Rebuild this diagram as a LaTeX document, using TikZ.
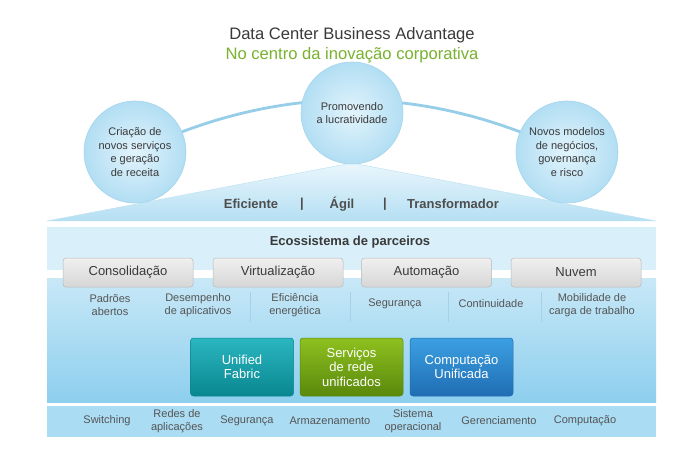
\documentclass[tikz,border=0pt]{standalone}
\usepackage{fontspec}
\setmainfont{Liberation Sans}
\pgfdeclarelayer{background}
\pgfsetlayers{background,main}
\definecolor{txtdark}{HTML}{3A3A3A}
\definecolor{txtgray}{HTML}{555555}
\definecolor{subgreen}{HTML}{78B22E}
\definecolor{panellight}{HTML}{D9EFFA}
\definecolor{panelmidtop}{HTML}{C8E8F7}
\definecolor{panelmidbot}{HTML}{8DCFEE}
\definecolor{stripblue}{HTML}{AADCF3}
\definecolor{bubin}{HTML}{E2F4FC}
\definecolor{bubout}{HTML}{B2DEF3}
\definecolor{bubrim}{HTML}{A4D5ED}
\definecolor{rooftop}{HTML}{EAF6FC}
\definecolor{roofbot}{HTML}{B4DFF3}
\definecolor{arcblue}{HTML}{96CDE9}
\definecolor{sepblue}{HTML}{A6D2E8}
\definecolor{teal1}{HTML}{2BB6C0}
\definecolor{teal2}{HTML}{098790}
\definecolor{green1}{HTML}{8EC11F}
\definecolor{green2}{HTML}{5A880C}
\definecolor{blue1}{HTML}{3CA0E2}
\definecolor{blue2}{HTML}{1F6DB3}
\tikzset{
  bubble/.style={circle, minimum size=102pt, inner sep=0pt, align=center,
    shading=radial, inner color=bubin, outer color=bubout,
    draw=bubrim, line width=0.6pt,
    font=\fontsize{11}{13.5}\selectfont, text=txtdark},
  graybox/.style={rounded corners=3pt, minimum width=130pt, minimum height=29pt,
    top color=gray!12, bottom color=gray!32, draw=gray!55, line width=0.5pt,
    font=\fontsize{13}{15}\selectfont, text=txtdark},
  colbox/.style={rounded corners=3pt, minimum width=103pt, minimum height=58pt,
    align=center, text=white, font=\fontsize{13}{14.5}\selectfont, line width=0.5pt},
  smalllbl/.style={align=center, font=\fontsize{11}{13.5}\selectfont, text=txtgray},
  rooflbl/.style={font=\bfseries\fontsize{13}{15}\selectfont, text=txtdark!90},
  sepline/.style={draw=sepblue, line width=0.6pt}
}
\begin{document}
\begin{tikzpicture}[x=1pt,y=-1pt]
\useasboundingbox (0,0) rectangle (700,470);
\begin{pgfonlayer}{background}
\fill[white] (0,0) rectangle (700,470);
\end{pgfonlayer}

% title
\node[font=\fontsize{16.6}{18}\selectfont, text=txtdark] (title) at (352,35) {Data Center Business Advantage};
\node[font=\fontsize{16.6}{18}\selectfont, text=subgreen] (subtitle) at (352,55) {No centro da inovação corporativa};

% roof
\shade[top color=rooftop, bottom color=roofbot]
  (47,221) -- (352,163) -- (656,221) -- cycle;
\draw[bubrim!70!white, line width=0.5pt] (47,221) -- (352,163) -- (656,221);
\coordinate (roofapex) at (352,163);
\node[rooflbl] (efic) at (251,204) {Eficiente};
\node[rooflbl] (bar1) at (302,204) {|};
\node[rooflbl] (agil) at (342,204) {Ágil};
\node[rooflbl] (bar2) at (385,204) {|};
\node[rooflbl] (transf) at (453,204) {Transformador};

% bubbles and arc
\node[bubble] (cL) at (135,152) {Criação de\\novos serviços\\e geração\\de receita};
\node[bubble] (cM) at (352,113) {Promovendo\\a lucratividade};
\node[bubble] (cR) at (567,152) {Novos modelos\\de negócios,\\governança\\e risco};
\begin{pgfonlayer}{background}
\draw[arcblue, line width=2.8pt] (cL.center) .. controls (279,82.7) and (423,82.7) .. (cR.center);
\end{pgfonlayer}

% panel
\fill[panellight] (47,227) rectangle (656,270);
\fill[white] (47,270) rectangle (656,278);
\shade[top color=panelmidtop, bottom color=panelmidbot] (47,278) rectangle (656,402);
\fill[stripblue] (47,406) rectangle (656,437);

\node[font=\bfseries\fontsize{13}{15}\selectfont, text=txtdark] (eco) at (350,242) {Ecossistema de parceiros};

\node[graybox] (cons) at (128,272.5) {Consolidação};
\node[graybox] (virt) at (278,272.5) {Virtualização};
\node[graybox] (auto) at (426.5,272.5) {Automação};
\node[graybox] (nuv) at (576,272.5) {Nuvem};

\node[smalllbl] (pad) at (110,305) {Padrões\\abertos};
\node[smalllbl] (des) at (198,305) {Desempenho\\de aplicativos};
\node[smalllbl] (efi) at (295,305) {Eficiência\\energética};
\node[smalllbl] (seg) at (395,304) {Segurança};
\node[smalllbl] (con) at (491,304) {Continuidade};
\node[smalllbl] (mob) at (592,305) {Mobilidade de\\carga de trabalho};
\coordinate (s1a) at (250,292); \coordinate (s1b) at (250,322);
\coordinate (s2a) at (350,292); \coordinate (s2b) at (350,322);
\coordinate (s3a) at (448,292); \coordinate (s3b) at (448,322);
\coordinate (s4a) at (541,292); \coordinate (s4b) at (541,322);
\draw[sepline] (s1a) -- (s1b);
\draw[sepline] (s2a) -- (s2b);
\draw[sepline] (s3a) -- (s3b);
\draw[sepline] (s4a) -- (s4b);

\node[colbox, top color=teal1, bottom color=teal2, draw=teal2] (uf) at (242,367) {Unified\\Fabric};
\node[colbox, top color=green1, bottom color=green2, draw=green2] (srv) at (351.5,367) {Serviços\\de rede\\unificados};
\node[colbox, top color=blue1, bottom color=blue2, draw=blue2] (cu) at (461.5,367) {Computação\\Unificada};

\node[smalllbl] (b1) at (107,421) {Switching};
\node[smalllbl] (b2) at (177,421) {Redes de\\aplicações};
\node[smalllbl] (b3) at (247,421) {Segurança};
\node[smalllbl] (b4) at (330,421) {Armazenamento};
\node[smalllbl] (b5) at (413,421) {Sistema\\operacional};
\node[smalllbl] (b6) at (499,421) {Gerenciamento};
\node[smalllbl] (b7) at (585,421) {Computação};
\end{tikzpicture}
\end{document}
